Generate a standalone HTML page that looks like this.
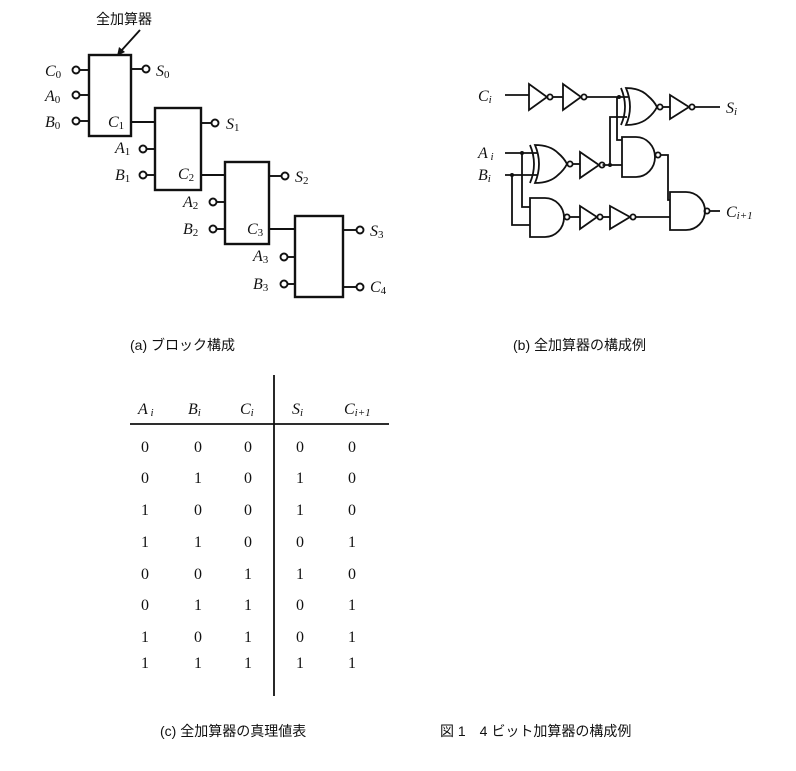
<!DOCTYPE html><html><head><meta charset="utf-8"><style>
html,body{margin:0;padding:0;background:#fff}
svg{display:block}
text{font-family:"Liberation Serif","Noto Serif CJK SC",serif;fill:#111}
.it{font-style:italic;font-size:16px}
.jp{font-family:"Liberation Sans","Noto Sans CJK JP",sans-serif;font-size:14px}
.n{font-size:16px}
</style></head><body>
<svg width="796" height="771" viewBox="0 0 796 771" xmlns="http://www.w3.org/2000/svg">
<g stroke="#111" stroke-width="1.9" fill="none">
<rect x="89" y="55" width="42" height="81" stroke-width="2.4"/>
<rect x="155" y="108" width="46" height="82" stroke-width="2.4"/>
<rect x="225" y="162" width="44" height="82" stroke-width="2.4"/>
<rect x="295" y="216" width="48" height="81" stroke-width="2.4"/>
<circle cx="76" cy="70" r="3.5"/><line x1="79.5" y1="70" x2="89" y2="70"/>
<circle cx="76" cy="95" r="3.5"/><line x1="79.5" y1="95" x2="89" y2="95"/>
<circle cx="76" cy="121" r="3.5"/><line x1="79.5" y1="121" x2="89" y2="121"/>
<line x1="131" y1="69" x2="142" y2="69"/><circle cx="146" cy="69" r="3.5"/>
<line x1="131" y1="122" x2="155" y2="122"/>
<circle cx="143" cy="149" r="3.5"/><line x1="146.5" y1="149" x2="155" y2="149"/>
<circle cx="143" cy="175" r="3.5"/><line x1="146.5" y1="175" x2="155" y2="175"/>
<line x1="201" y1="123" x2="211" y2="123"/><circle cx="215" cy="123" r="3.5"/>
<line x1="201" y1="175" x2="225" y2="175"/>
<circle cx="213" cy="202" r="3.5"/><line x1="216.5" y1="202" x2="225" y2="202"/>
<circle cx="213" cy="229" r="3.5"/><line x1="216.5" y1="229" x2="225" y2="229"/>
<line x1="269" y1="176" x2="281" y2="176"/><circle cx="285" cy="176" r="3.5"/>
<line x1="269" y1="229" x2="295" y2="229"/>
<circle cx="284" cy="257" r="3.5"/><line x1="287.5" y1="257" x2="295" y2="257"/>
<circle cx="284" cy="284" r="3.5"/><line x1="287.5" y1="284" x2="295" y2="284"/>
<line x1="343" y1="230" x2="356" y2="230"/><circle cx="360" cy="230" r="3.5"/>
<line x1="343" y1="287" x2="356" y2="287"/><circle cx="360" cy="287" r="3.5"/>
<line x1="140" y1="30" x2="121" y2="51"/>
</g>
<polygon points="117,56 119,47 125,52" fill="#111"/>
<text class="jp" x="96" y="24">全加算器</text>
<g class="it">
<text x="45" y="76">C<tspan font-size="11" font-style="normal" dy="2">0</tspan></text>
<text x="45" y="101">A<tspan font-size="11" font-style="normal" dy="2">0</tspan></text>
<text x="45" y="127">B<tspan font-size="11" font-style="normal" dy="2">0</tspan></text>
<text x="156" y="76">S<tspan font-size="11" font-style="normal" dy="2">0</tspan></text>
<text x="108" y="127">C<tspan font-size="11" font-style="normal" dy="2">1</tspan></text>
<text x="226" y="129">S<tspan font-size="11" font-style="normal" dy="2">1</tspan></text>
<text x="115" y="153">A<tspan font-size="11" font-style="normal" dy="2">1</tspan></text>
<text x="115" y="180">B<tspan font-size="11" font-style="normal" dy="2">1</tspan></text>
<text x="178" y="179">C<tspan font-size="11" font-style="normal" dy="2">2</tspan></text>
<text x="295" y="182">S<tspan font-size="11" font-style="normal" dy="2">2</tspan></text>
<text x="183" y="207">A<tspan font-size="11" font-style="normal" dy="2">2</tspan></text>
<text x="183" y="234">B<tspan font-size="11" font-style="normal" dy="2">2</tspan></text>
<text x="247" y="234">C<tspan font-size="11" font-style="normal" dy="2">3</tspan></text>
<text x="370" y="236">S<tspan font-size="11" font-style="normal" dy="2">3</tspan></text>
<text x="253" y="261">A<tspan font-size="11" font-style="normal" dy="2">3</tspan></text>
<text x="253" y="289">B<tspan font-size="11" font-style="normal" dy="2">3</tspan></text>
<text x="370" y="292">C<tspan font-size="11" font-style="normal" dy="2">4</tspan></text>
</g>

<g stroke="#111" stroke-width="1.8" fill="none">
<line x1="505" y1="95" x2="529" y2="95"/>
<polygon points="529,84 529,110 547,97"/><circle cx="550" cy="97" r="2.6"/>
<line x1="552.5" y1="97" x2="563" y2="97"/>
<polygon points="563,84 563,110 581,97"/><circle cx="584" cy="97" r="2.6"/>
<line x1="586.5" y1="97" x2="628" y2="97"/>
<path d="M626,88 Q640,88 648,96 Q654,101 657,107 Q654,113 648,118 Q640,125 626,125 Q634,107 626,88 Z"/>
<path d="M621,88 Q629,107 621,125"/>
<circle cx="660" cy="107" r="2.6"/>
<line x1="662.5" y1="107" x2="670" y2="107"/>
<polygon points="670,95 670,119 689,107"/><circle cx="692" cy="107" r="2.6"/>
<line x1="694.5" y1="107" x2="720" y2="107"/>
<path d="M617,97 V140 H622"/>
<path d="M610,165 V117 H627"/>
<path d="M622,137 H636 A19,20 0 0 1 636,177 H622 Z"/>
<circle cx="658" cy="155" r="2.6"/>
<line x1="602.5" y1="165" x2="622" y2="165"/>
<path d="M660.5,155 H668 V200 H670"/>
<line x1="505" y1="153" x2="538" y2="153"/>
<line x1="505" y1="175" x2="537" y2="175"/>
<path d="M535,145 Q550,145 558,153 Q564,158 567,164 Q564,170 558,175 Q550,183 535,183 Q543,164 535,145 Z"/>
<path d="M530,145 Q538,164 530,183"/>
<circle cx="570" cy="164" r="2.6"/>
<line x1="572.5" y1="164" x2="580" y2="164"/>
<polygon points="580,152 580,178 599,165"/><circle cx="602" cy="165" r="2.6"/>
<path d="M522,153 V207 H530"/>
<path d="M512,175 V225 H530"/>
<path d="M530,198 H545 A19,19.5 0 0 1 545,237 H530 Z"/>
<circle cx="567" cy="217" r="2.6"/>
<line x1="569.5" y1="217" x2="580" y2="217"/>
<polygon points="580,206 580,229 597,217"/><circle cx="600" cy="217" r="2.6"/>
<line x1="602.5" y1="217" x2="610" y2="217"/>
<polygon points="610,206 610,229 630,217"/><circle cx="633" cy="217" r="2.6"/>
<line x1="635.5" y1="217" x2="670" y2="217"/>
<path d="M670,192 H686 A19,19 0 0 1 686,230 H670 Z"/>
<circle cx="707" cy="211" r="2.6"/>
<line x1="709.5" y1="211" x2="720" y2="211"/>
</g>
<g fill="#111">
<circle cx="619" cy="97" r="2"/><circle cx="610" cy="165" r="2"/>
<circle cx="522" cy="153" r="2"/><circle cx="512" cy="175" r="2"/>
</g>
<g class="it">
<text x="478" y="101">C<tspan font-size="11" dy="2">i</tspan></text>
<text x="478" y="158">A<tspan font-size="11" dy="2"> i</tspan></text>
<text x="478" y="180">B<tspan font-size="11" dy="2">i</tspan></text>
<text x="726" y="113">S<tspan font-size="11" dy="2">i</tspan></text>
<text x="726" y="217">C<tspan font-size="11" dy="2">i+1</tspan></text>
</g>

<text class="jp" x="130" y="350">(a) ブロック構成</text>
<text class="jp" x="513" y="350">(b) 全加算器の構成例</text>

<g stroke="#111" stroke-width="1.8">
<line x1="130" y1="424" x2="389" y2="424"/>
<line x1="274" y1="375" x2="274" y2="696"/>
</g>
<g class="it">
<text x="138" y="414">A<tspan font-size="11" dy="2"> i</tspan></text>
<text x="188" y="414">B<tspan font-size="11" dy="2">i</tspan></text>
<text x="240" y="414">C<tspan font-size="11" dy="2">i</tspan></text>
<text x="292" y="414">S<tspan font-size="11" dy="2">i</tspan></text>
<text x="344" y="414">C<tspan font-size="11" dy="2">i+1</tspan></text>
</g>
<g class="n" text-anchor="middle">
<text x="145" y="452">0</text><text x="198" y="452">0</text><text x="248" y="452">0</text><text x="300" y="452">0</text><text x="352" y="452">0</text>
<text x="145" y="483">0</text><text x="198" y="483">1</text><text x="248" y="483">0</text><text x="300" y="483">1</text><text x="352" y="483">0</text>
<text x="145" y="515">1</text><text x="198" y="515">0</text><text x="248" y="515">0</text><text x="300" y="515">1</text><text x="352" y="515">0</text>
<text x="145" y="547">1</text><text x="198" y="547">1</text><text x="248" y="547">0</text><text x="300" y="547">0</text><text x="352" y="547">1</text>
<text x="145" y="579">0</text><text x="198" y="579">0</text><text x="248" y="579">1</text><text x="300" y="579">1</text><text x="352" y="579">0</text>
<text x="145" y="610">0</text><text x="198" y="610">1</text><text x="248" y="610">1</text><text x="300" y="610">0</text><text x="352" y="610">1</text>
<text x="145" y="642">1</text><text x="198" y="642">0</text><text x="248" y="642">1</text><text x="300" y="642">0</text><text x="352" y="642">1</text>
<text x="145" y="668">1</text><text x="198" y="668">1</text><text x="248" y="668">1</text><text x="300" y="668">1</text><text x="352" y="668">1</text>
</g>

<text class="jp" x="160" y="736">(c) 全加算器の真理値表</text>
<text class="jp" x="440" y="736">図 1　4 ビット加算器の構成例</text>
</svg>
</body></html>
